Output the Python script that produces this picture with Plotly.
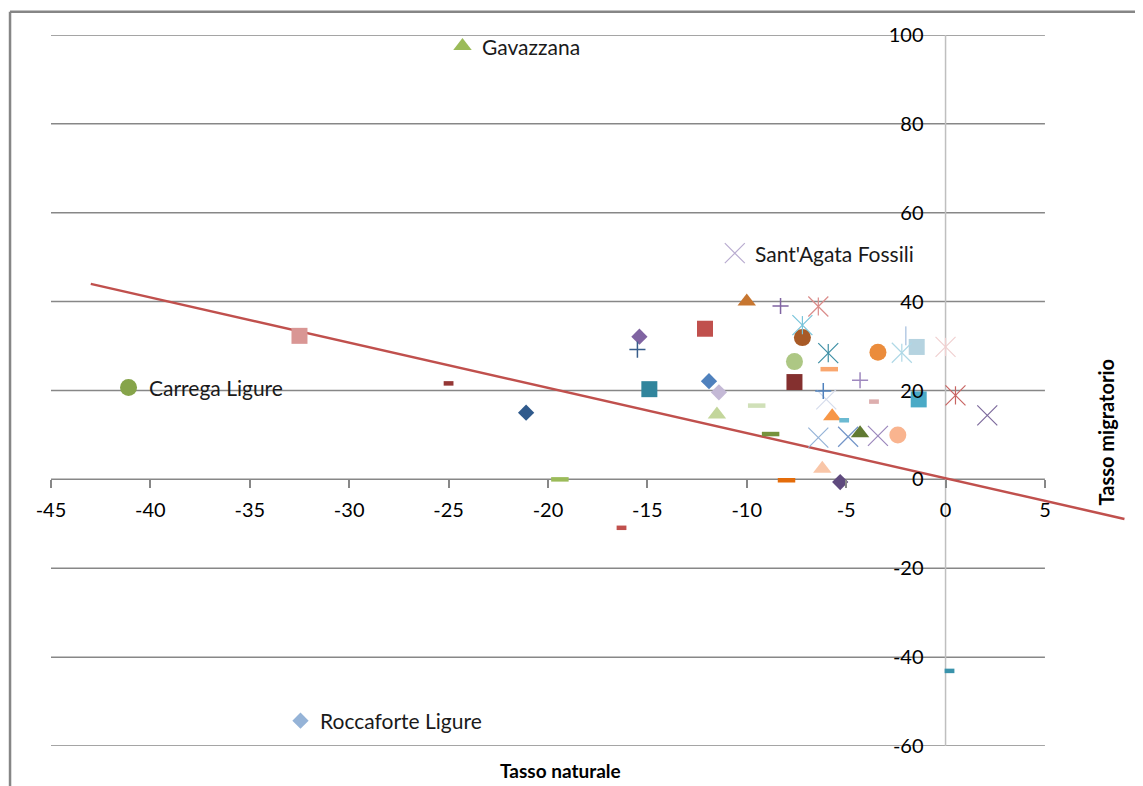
import plotly.graph_objects as go

# ---------------- data ----------------
x_natural = [-24.3, -10.6, -41.1, -32.45, -32.5, -25.0, -21.1, -19.4, -16.3, -15.4,
             -15.5, -14.9, -12.1, -11.9, -11.4, -11.5, -9.5, -8.8, -8.0, -10.0,
             -8.3, -7.2, -7.2, -6.4, -7.6, -7.6, -5.9, -5.85, -6.15, -6.0,
             -5.7, -5.1, -6.4, -4.9, -4.3, -3.4, -2.4, -6.2, -5.3, -4.3,
             -3.6, -3.4, -2.2, -2.0, -1.45, 0.0, -1.35, 0.5, 2.1, 0.2]
y_migratory = [97.5, 50.9, 20.7, -54.3, 32.3, 21.6, 15.0, 0.0, -10.9, 32.1,
               29.2, 20.3, 33.9, 22.1, 19.6, 14.6, 16.6, 10.2, -0.2, 40.0,
               39.0, 31.9, 34.7, 38.9, 26.5, 21.9, 28.4, 24.8, 19.9, 18.0,
               14.2, 13.3, 9.4, 9.6, 10.4, 9.8, 10.0, 2.4, -0.6, 22.3,
               17.5, 28.6, 28.5, 32.3, 29.8, 29.8, 18.0, 18.9, 14.4, -43.1]
point_labels = ["Gavazzana", "Sant'Agata Fossili", "Carrega Ligure", "Roccaforte Ligure"] + [""] * 46

x_ticks = [-45, -40, -35, -30, -25, -20, -15, -10, -5, 0, 5]
y_ticks = [-60, -40, -20, 0, 20, 40, 60, 80, 100]

trend_x = [-43.0, 9.0]
trend_y = [44.0, -8.9]

x_title = "Tasso naturale"
y_title = "Tasso migratorio"

# ---------------- styles ----------------
marker_kind = ["triangle", "x", "circle", "diamond", "square", "dash", "diamond", "longdash", "dash", "diamond",
               "plus", "square", "square", "diamond", "diamond", "triangle", "longdash", "longdash", "longdash", "triangle",
               "plus", "circle", "star", "star", "circle", "square", "star", "longdash", "plus", "x",
               "triangle", "dash", "x", "x", "triangle", "x", "circle", "triangle", "diamond", "plus",
               "dash", "circle", "star", "vline", "square", "star", "square", "star", "x", "dash"]
marker_color = ["#9BBB59", "#B9ACD0", "#86A44A", "#95B3D7", "#D99694", "#953735", "#2F5A8C", "#9BBB59", "#C0504D", "#8064A2",
                "#385D8A", "#31859C", "#C0504D", "#4F81BD", "#C4B9D6", "#C3D69B", "#D0E0B8", "#76923C", "#E46C0A", "#C77630",
                "#8064A2", "#A85A26", "#78C4DA", "#DA8C8A", "#ADC784", "#84302F", "#3E8FA5", "#F9A66E", "#4F81BD", "#D5DCEC",
                "#F79646", "#6BBAD2", "#95B3D7", "#7395C8", "#607A32", "#9B87BC", "#F9B48F", "#F9C6A8", "#5F4A7E", "#9E88BE",
                "#DDAEAE", "#EB8C3C", "#AFD8E6", "#B9CDE5", "#B5D3E0", "#F0D0D0", "#4AAAC6", "#C86462", "#7D6A9C", "#3A93AB"]

KIND_STYLES = {
    "square": [dict(symbol="square", size=16, lw=0)],
    "diamond": [dict(symbol="diamond", size=12.5, lw=0)],
    "triangle": [dict(symbol="triangle-up", size=16, lw=0)],
    "circle": [dict(symbol="circle", size=17, lw=0)],
    "x": [dict(symbol="x-thin-open", size=20, lw=1.2)],
    "plus": [dict(symbol="cross-thin-open", size=11.5, lw=1.5)],
    "star": [dict(symbol="x-thin-open", size=20, lw=1.2), dict(symbol="line-ns-open", size=13, lw=1.2)],
    "dash": [dict(symbol="line-ew-open", size=7, lw=4.5)],
    "longdash": [dict(symbol="line-ew-open", size=12.5, lw=4.5)],
    "vline": [dict(symbol="line-ns-open", size=13.5, lw=1.6)],
}

FONT = "Lato, 'Open Sans', sans-serif"
GRID = "#878787"

fig = go.Figure()

# trend line
fig.add_trace(go.Scatter(x=trend_x, y=trend_y, mode="lines",
                         line=dict(color="#C0504D", width=2.5), hoverinfo="skip", showlegend=False))

# markers grouped by kind
for kind, styles in KIND_STYLES.items():
    idx = [i for i, k in enumerate(marker_kind) if k == kind]
    if not idx:
        continue
    xs = [x_natural[i] for i in idx]
    ys = [y_migratory[i] for i in idx]
    cs = [marker_color[i] for i in idx]
    for st in styles:
        fig.add_trace(go.Scatter(
            x=xs, y=ys, mode="markers", showlegend=False, cliponaxis=False,
            marker=dict(symbol=st["symbol"], size=st["size"], color=cs,
                        line=dict(color=cs, width=st["lw"]))))

# point labels
for xv, yv, lab in zip(x_natural, y_migratory, point_labels):
    if lab:
        fig.add_annotation(x=xv, y=yv, text=lab, showarrow=False, xanchor="left", yanchor="middle",
                           xshift=18, font=dict(family=FONT, size=21, color="#1a1a1a"))

# gridlines (including the y=0 axis line), limited to -45..5
shapes = []
for yv in y_ticks:
    shapes.append(dict(type="line", xref="x", yref="y", x0=x_ticks[0], x1=x_ticks[-1], y0=yv, y1=yv,
                       line=dict(color=GRID, width=1.5), layer="below"))
# vertical axis line at x = 0
shapes.append(dict(type="line", xref="x", yref="y", x0=0, x1=0, y0=y_ticks[0], y1=y_ticks[-1],
                   line=dict(color="#BFBFBF", width=1.5), layer="below"))
# chart-area border (top & left visible)
shapes.append(dict(type="line", xref="paper", yref="paper", x0=-0.0379, x1=1.02, y0=1.0327, y1=1.0327,
                   line=dict(color="#868686", width=2.5)))
shapes.append(dict(type="line", xref="paper", yref="paper", x0=-0.0379, x1=-0.0379, y0=-0.08, y1=1.0327,
                   line=dict(color="#868686", width=2.5)))

fig.add_annotation(xref="paper", yref="paper", x=0.4709, y=-0.034, text="<b>" + x_title + "</b>",
                   showarrow=False, xanchor="center", yanchor="middle",
                   font=dict(family=FONT, size=19, color="#000000"))
fig.add_annotation(xref="paper", yref="paper", x=0.976, y=0.441, text="<b>" + y_title + "</b>",
                   showarrow=False, xanchor="center", yanchor="middle", textangle=-90,
                   font=dict(family=FONT, size=20, color="#000000"))

x_range = [-45, 9.38]
# page body has an 8px margin: shrink the figure so the plot area lands where the reference has it
fig.update_layout(
    width=1135, height=778,
    margin=dict(l=43, r=11, t=27, b=40),
    paper_bgcolor="white", plot_bgcolor="white",
    shapes=shapes,
    xaxis=dict(range=x_range, tickvals=x_ticks, ticktext=[str(v) for v in x_ticks],
               showgrid=False, zeroline=False, showline=False,
               ticks="outside", ticklen=8, tickwidth=1.5, tickcolor=GRID,
               anchor="free", position=0.375, ticklabelstandoff=5,
               tickfont=dict(family=FONT, size=20, color="#000000")),
    yaxis=dict(range=[-60, 100], tickvals=y_ticks, ticktext=[str(v) for v in y_ticks],
               showgrid=False, zeroline=False, showline=False, ticks="",
               anchor="free", position=(0 - x_range[0]) / (x_range[1] - x_range[0]),
               ticklabelstandoff=22,
               tickfont=dict(family=FONT, size=20, color="#000000")),
)

fig.write_html("out.html")
